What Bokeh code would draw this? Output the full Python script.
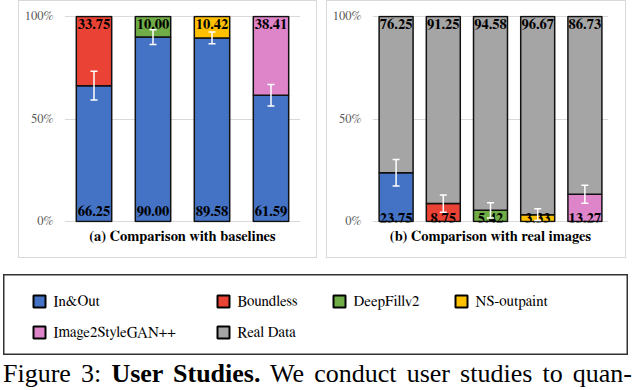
from bokeh.plotting import figure
from bokeh.models import (ColumnDataSource, FactorRange, Range1d, FixedTicker, Whisker,
                          TeeHead, Title, Div, Spacer)
from bokeh.layouts import column, row
from bokeh.core.properties import value
from bokeh.embed import file_html
from bokeh.resources import INLINE

# ---------------- data ----------------
series = ["In&Out", "Boundless", "DeepFillv2", "NS-outpaint", "Image2StyleGAN++", "Real Data"]
series_colors = ["#4472C4", "#EA4335", "#70AD47", "#FFC000", "#DE84C8", "#A5A5A5"]

# (a) Comparison with baselines: In&Out vs each baseline
a_categories = ["Boundless", "DeepFillv2", "NS-outpaint", "Image2StyleGAN++"]
a_inout = [66.25, 90.00, 89.58, 61.59]
a_baseline = [33.75, 10.00, 10.42, 38.41]
a_err = [7.0, 3.6, 2.9, 5.3]

# (b) Comparison with real images: each method vs real data
b_categories = ["In&Out", "Boundless", "DeepFillv2", "NS-outpaint", "Image2StyleGAN++"]
b_method = [23.75, 8.75, 5.42, 3.33, 13.27]
b_real = [76.25, 91.25, 94.58, 96.67, 86.73]
b_err = [6.5, 4.2, 3.7, 2.9, 4.4]

y_ticks = [0, 50, 100]
y_tick_labels = ["0%", "50%", "100%"]
panel_titles = ["(a) Comparison with baselines", "(b) Comparison with real images"]
caption_lead = "Figure 3:"
caption_bold = "User Studies."
caption_rest = "We conduct user studies to quan-"

SERIF = "FreeSerif"
color_of = dict(zip(series, series_colors))


def make_panel(cats, bottom_vals, top_vals, errs, bottom_color_field, top_color_field,
               title, width, left, right, bar_w, bottom_off):
    src = ColumnDataSource(dict(
        cat=cats,
        low=[0] * len(cats),
        mid=bottom_vals,
        high=[b + t for b, t in zip(bottom_vals, top_vals)],
        bottom_lbl=[f"{v:.2f}" for v in bottom_vals],
        top_lbl=[f"{v:.2f}" for v in top_vals],
        err_lo=[m - e for m, e in zip(bottom_vals, errs)],
        err_hi=[m + e for m, e in zip(bottom_vals, errs)],
        bcol=[color_of[c] for c in bottom_color_field],
        tcol=[color_of[c] for c in top_color_field],
    ))
    p = figure(x_range=FactorRange(*cats, range_padding=0), y_range=Range1d(-0.5, 100.5),
               width=width, height=258, output_backend="svg", toolbar_location=None,
               min_border_left=left, min_border_right=right, min_border_top=14,
               min_border_bottom=37, title=None)
    p.styles = {"border": "1px solid #d9d9d9", "box-sizing": "border-box"}
    p.outline_line_color = None
    p.xgrid.grid_line_color = None
    p.xaxis.visible = False
    p.ygrid.grid_line_color = "#d9d9d9"
    p.ygrid.grid_line_width = 1
    p.ygrid.ticker = FixedTicker(ticks=y_ticks)
    ax = p.yaxis[0]
    ax.ticker = FixedTicker(ticks=y_ticks)
    ax.major_label_overrides = dict(zip(y_ticks, y_tick_labels))
    ax.axis_line_color = None
    ax.major_tick_line_color = None
    ax.minor_tick_line_color = None
    ax.major_tick_out = 0
    ax.major_tick_in = 0
    ax.major_label_standoff = 11
    ax.major_label_text_font = SERIF
    ax.major_label_text_font_size = "12.5px"
    ax.major_label_text_color = "#595959"

    p.vbar(x="cat", bottom="low", top="mid", width=bar_w, source=src,
           fill_color="bcol", line_color="#111111", line_width=1.5)
    p.vbar(x="cat", bottom="mid", top="high", width=bar_w, source=src,
           fill_color="tcol", line_color="#111111", line_width=1.5)

    p.text(x="cat", y="low", text="bottom_lbl", source=src, text_align="center",
           text_baseline="bottom", text_font=value(SERIF), text_font_style="bold",
           text_font_size="14.5px", text_color="black", y_offset=bottom_off)
    p.text(x="cat", y="high", text="top_lbl", source=src, text_align="center",
           text_baseline="top", text_font=value(SERIF), text_font_style="bold",
           text_font_size="14.5px", text_color="black", y_offset=2)

    w = Whisker(base="cat", lower="err_lo", upper="err_hi", source=src,
                line_color="white", line_width=1.5, level="annotation",
                upper_head=TeeHead(size=7, line_color="white", line_width=1.5),
                lower_head=TeeHead(size=7, line_color="white", line_width=1.5))
    p.add_layout(w)

    p.add_layout(Title(text=title, align="center", text_font=SERIF, text_font_style="bold",
                       text_font_size="14.5px", text_color="black", standoff=9), "below")
    return p


pa = make_panel(a_categories, a_inout, a_baseline, a_err,
                ["In&Out"] * len(a_categories), a_categories,
                panel_titles[0], 299, 45, 18, 0.6, -5)
pb = make_panel(b_categories, b_method, b_real, b_err,
                b_categories, ["Real Data"] * len(b_categories),
                panel_titles[1], 300, 45, 19, 0.72, 2)

# ---------------- legend (boxed key drawn in a pixel-scaled panel) ----------------
LEG_W, LEG_H = 625, 81
leg = figure(width=LEG_W, height=LEG_H, x_range=Range1d(0, LEG_W), y_range=Range1d(0, LEG_H),
             output_backend="svg", toolbar_location=None, min_border=0, title=None)
leg.xaxis.visible = False
leg.yaxis.visible = False
leg.grid.visible = False
leg.outline_line_color = "#333333"
leg.outline_line_width = 2

ncols = 4
col_x = [29, 213, 329, 451]      # left edge of each key column
row_top, row_step, swatch = 27, 31, 12
key_src = ColumnDataSource(dict(
    label=series,
    color=series_colors,
    sx=[col_x[i % ncols] + swatch / 2 + 1 for i in range(len(series))],
    tx=[col_x[i % ncols] + swatch + 9 for i in range(len(series))],
    y=[LEG_H - row_top - row_step * (i // ncols) for i in range(len(series))],
))
leg.scatter(x="sx", y="y", source=key_src, marker="square", size=swatch,
            fill_color="color", line_color="black", line_width=2)
leg.text(x="tx", y="y", text="label", source=key_src, text_baseline="middle",
         text_align="left", text_font=value(SERIF), text_font_size="15px",
         text_color="black")

# ---------------- caption ----------------
cap_html = (f'<div style="width:629px;margin:0;padding:0;text-align:justify;'
            f'text-align-last:justify;line-height:24px;white-space:nowrap;">'
            f'{caption_lead} <b>{caption_bold}</b> {caption_rest}</div>')
cap = Div(text=cap_html, width=629, height=35, margin=0,
          styles={"font-family": "'Liberation Serif'", "font-size": "26px", "color": "black"})

layout = column(
    row(Spacer(width=18), pa, Spacer(width=9), pb),
    Spacer(height=16),
    row(Spacer(width=3), leg),
    row(Spacer(width=3), cap),
)

open("out.html", "w").write(file_html(layout, INLINE))
